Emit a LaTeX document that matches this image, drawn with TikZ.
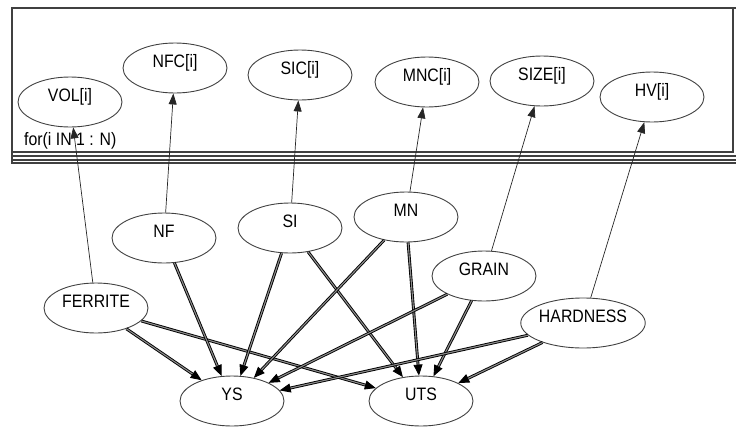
\documentclass[tikz,border=0pt]{standalone}
\usepackage{fontspec}
\setmainfont{Liberation Sans}[FakeStretch=0.88]
\usetikzlibrary{shapes.geometric,arrows.meta}
\begin{document}
\begin{tikzpicture}[x=1pt,y=-1pt,
  var/.style={ellipse,draw=black!75,line width=0.9pt,minimum width=104pt,minimum height=50pt,inner sep=0pt,
    text height=13pt,text depth=13.5pt,font=\fontsize{18}{20}\selectfont},
  thin/.style={draw=black!85,line width=0.7pt,-{Triangle[length=11pt,width=8pt]}},
  dbl/.style={draw=black,line width=0.9pt,double=black!45,double distance=1.1pt,
    -{Triangle[length=11pt,width=9pt]}},
  plate/.style={draw=black!75,line width=1.3pt}]
\useasboundingbox (0,0) rectangle (736,426);
\begin{scope}
\clip (0,0) rectangle (736,426);
\draw[plate] (12,8) rectangle (760,163);
\draw[plate] (12,8) rectangle (760,160);
\draw[plate] (12,8) rectangle (760,156);
\draw[plate] (12,8) rectangle (733,152);
\end{scope}
\node[anchor=west,inner sep=0pt,font=\fontsize{18}{20}\selectfont] (lbl) at (24,141) {for(i IN 1 : N)};
% plate nodes
\node[var] (vol) at (70,102) {VOL[i]};
\node[var] (nfc) at (175,68) {NFC[i]};
\node[var] (sic) at (300,75) {SIC[i]};
\node[var] (mnc) at (427,82) {MNC[i]};
\node[var] (size) at (542,81) {SIZE[i]};
\node[var] (hv) at (652,97) {HV[i]};
% lower nodes
\node[var] (nf) at (164,238) {NF};
\node[var] (si) at (290,228) {SI};
\node[var] (mn) at (406,217) {MN};
\node[var] (grain) at (484,276) {GRAIN};
\node[var] (hard) at (583,323) {HARDNESS};
\node[var] (fer) at (96,308) {FERRITE};
\node[var] (ys) at (232,401) {YS};
\node[var] (uts) at (421,401) {UTS};
% thin edges
\draw[thin] (fer) -- (vol);
\draw[thin] (nf) -- (nfc);
\draw[thin] (si) -- (sic);
\draw[thin] (mn) -- (mnc);
\draw[thin] (grain) -- (size);
\draw[thin] (hard) -- (hv);
% double edges
\draw[dbl] (fer) -- (ys);
\draw[dbl] (fer) -- (uts);
\draw[dbl] (nf) -- (ys);
\draw[dbl] (si) -- (ys);
\draw[dbl] (si) -- (uts);
\draw[dbl] (mn) -- (ys);
\draw[dbl] (mn) -- (uts);
\draw[dbl] (grain) -- (ys);
\draw[dbl] (grain) -- (uts);
\draw[dbl] (hard) -- (ys);
\draw[dbl] (hard) -- (uts);
\end{tikzpicture}
\end{document}
